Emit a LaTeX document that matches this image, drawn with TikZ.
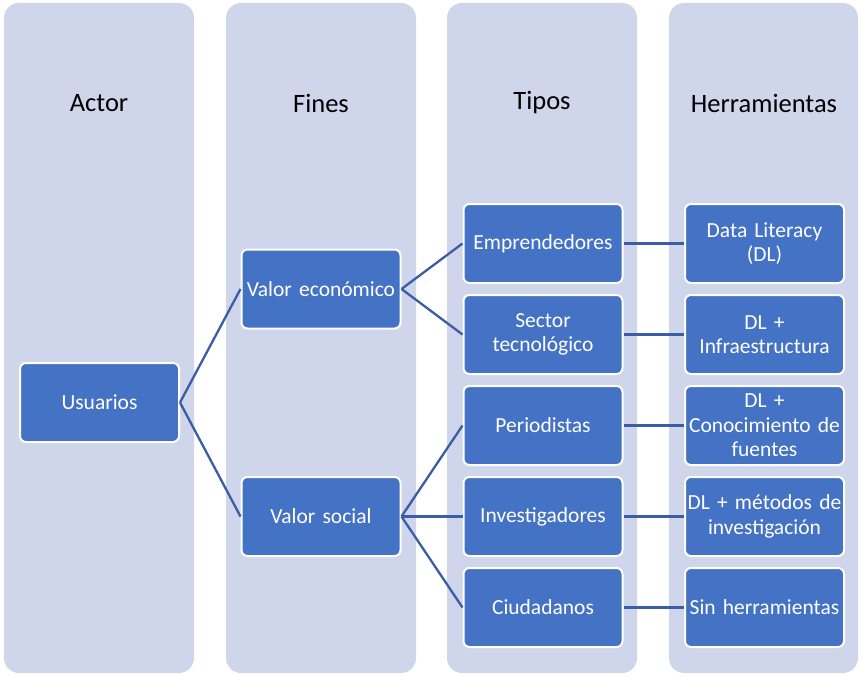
\documentclass[tikz,border=0pt]{standalone}
\usepackage{fontspec}
\setmainfont{Carlito}[WordSpace=0.45]
\begin{document}
\begin{tikzpicture}[x=1pt,y=-1pt,
  lane/.style={fill=laneblue,draw=none,rounded corners=15pt},
  head/.style={font=\fontsize{26.5}{30}\selectfont,text=black},
  item/.style={fill=itemblue,draw=white,line width=2pt,rounded corners=6pt,
    minimum width=159pt,minimum height=79pt,text width=155pt,align=center,
    text=white,font=\fontsize{21.5}{24.5}\selectfont,inner sep=0pt},
  link/.style={draw=linkblue,line width=2.3pt}]
\definecolor{laneblue}{HTML}{CFD5EA}
\definecolor{itemblue}{HTML}{4472C4}
\definecolor{linkblue}{HTML}{3A5DA6}
\useasboundingbox (0,0) rectangle (860,677);

% column bands
\fill[lane] (4,3) rectangle (194,673);
\fill[lane] (226,3) rectangle (416,673);
\fill[lane] (447,3) rectangle (637,673);
\fill[lane] (669,3) rectangle (858,673);

% column headings
\node[head] (hActor) at (99,103) {Actor};
\node[head] (hFines) at (321,103) {Fines};
\node[head] (hTipos) at (542,103) {Tipos};
\node[head] (hHerr) at (764,103) {Herramientas};

% connectors (drawn first so the boxes sit on top)
\coordinate (usuE) at (179,402.5);
\coordinate (ecoW) at (242,289);
\coordinate (socW) at (242,516.5);

% nodes
\node[item] (usu) at (99.5,402.5) {Usuarios};
\node[item] (eco) at (321,289) {Valor económico};
\node[item] (soc) at (321,516.5) {Valor social};

\node[item] (emp) at (543,243.5) {Emprendedores};
\node[item] (sec) at (543,334.5) {Sector\\tecnológico};
\node[item] (per) at (543,425.5) {Periodistas};
\node[item] (inv) at (543,516.5) {Investigadores};
\node[item] (ciu) at (543,607.5) {Ciudadanos};

\node[item] (dl)  at (764.5,243.5) {Data Literacy\\(DL)};
\node[item] (inf) at (764.5,334.5) {DL +\\Infraestructura};
\node[item] (fue) at (764.5,425.5) {DL +\\Conocimiento de\\fuentes};
\node[item] (met) at (764.5,516.5) {DL + métodos de\\investigación};
\node[item] (sin) at (764.5,607.5) {Sin herramientas};

\draw[link] (usu.east) -- (eco.west);
\draw[link] (usu.east) -- (soc.west);
\draw[link] (eco.east) -- (emp.west);
\draw[link] (eco.east) -- (sec.west);
\draw[link] (soc.east) -- (per.west);
\draw[link] (soc.east) -- (inv.west);
\draw[link] (soc.east) -- (ciu.west);
\draw[link] (emp.east) -- (dl.west);
\draw[link] (sec.east) -- (inf.west);
\draw[link] (per.east) -- (fue.west);
\draw[link] (inv.east) -- (met.west);
\draw[link] (ciu.east) -- (sin.west);
\end{tikzpicture}
\end{document}
